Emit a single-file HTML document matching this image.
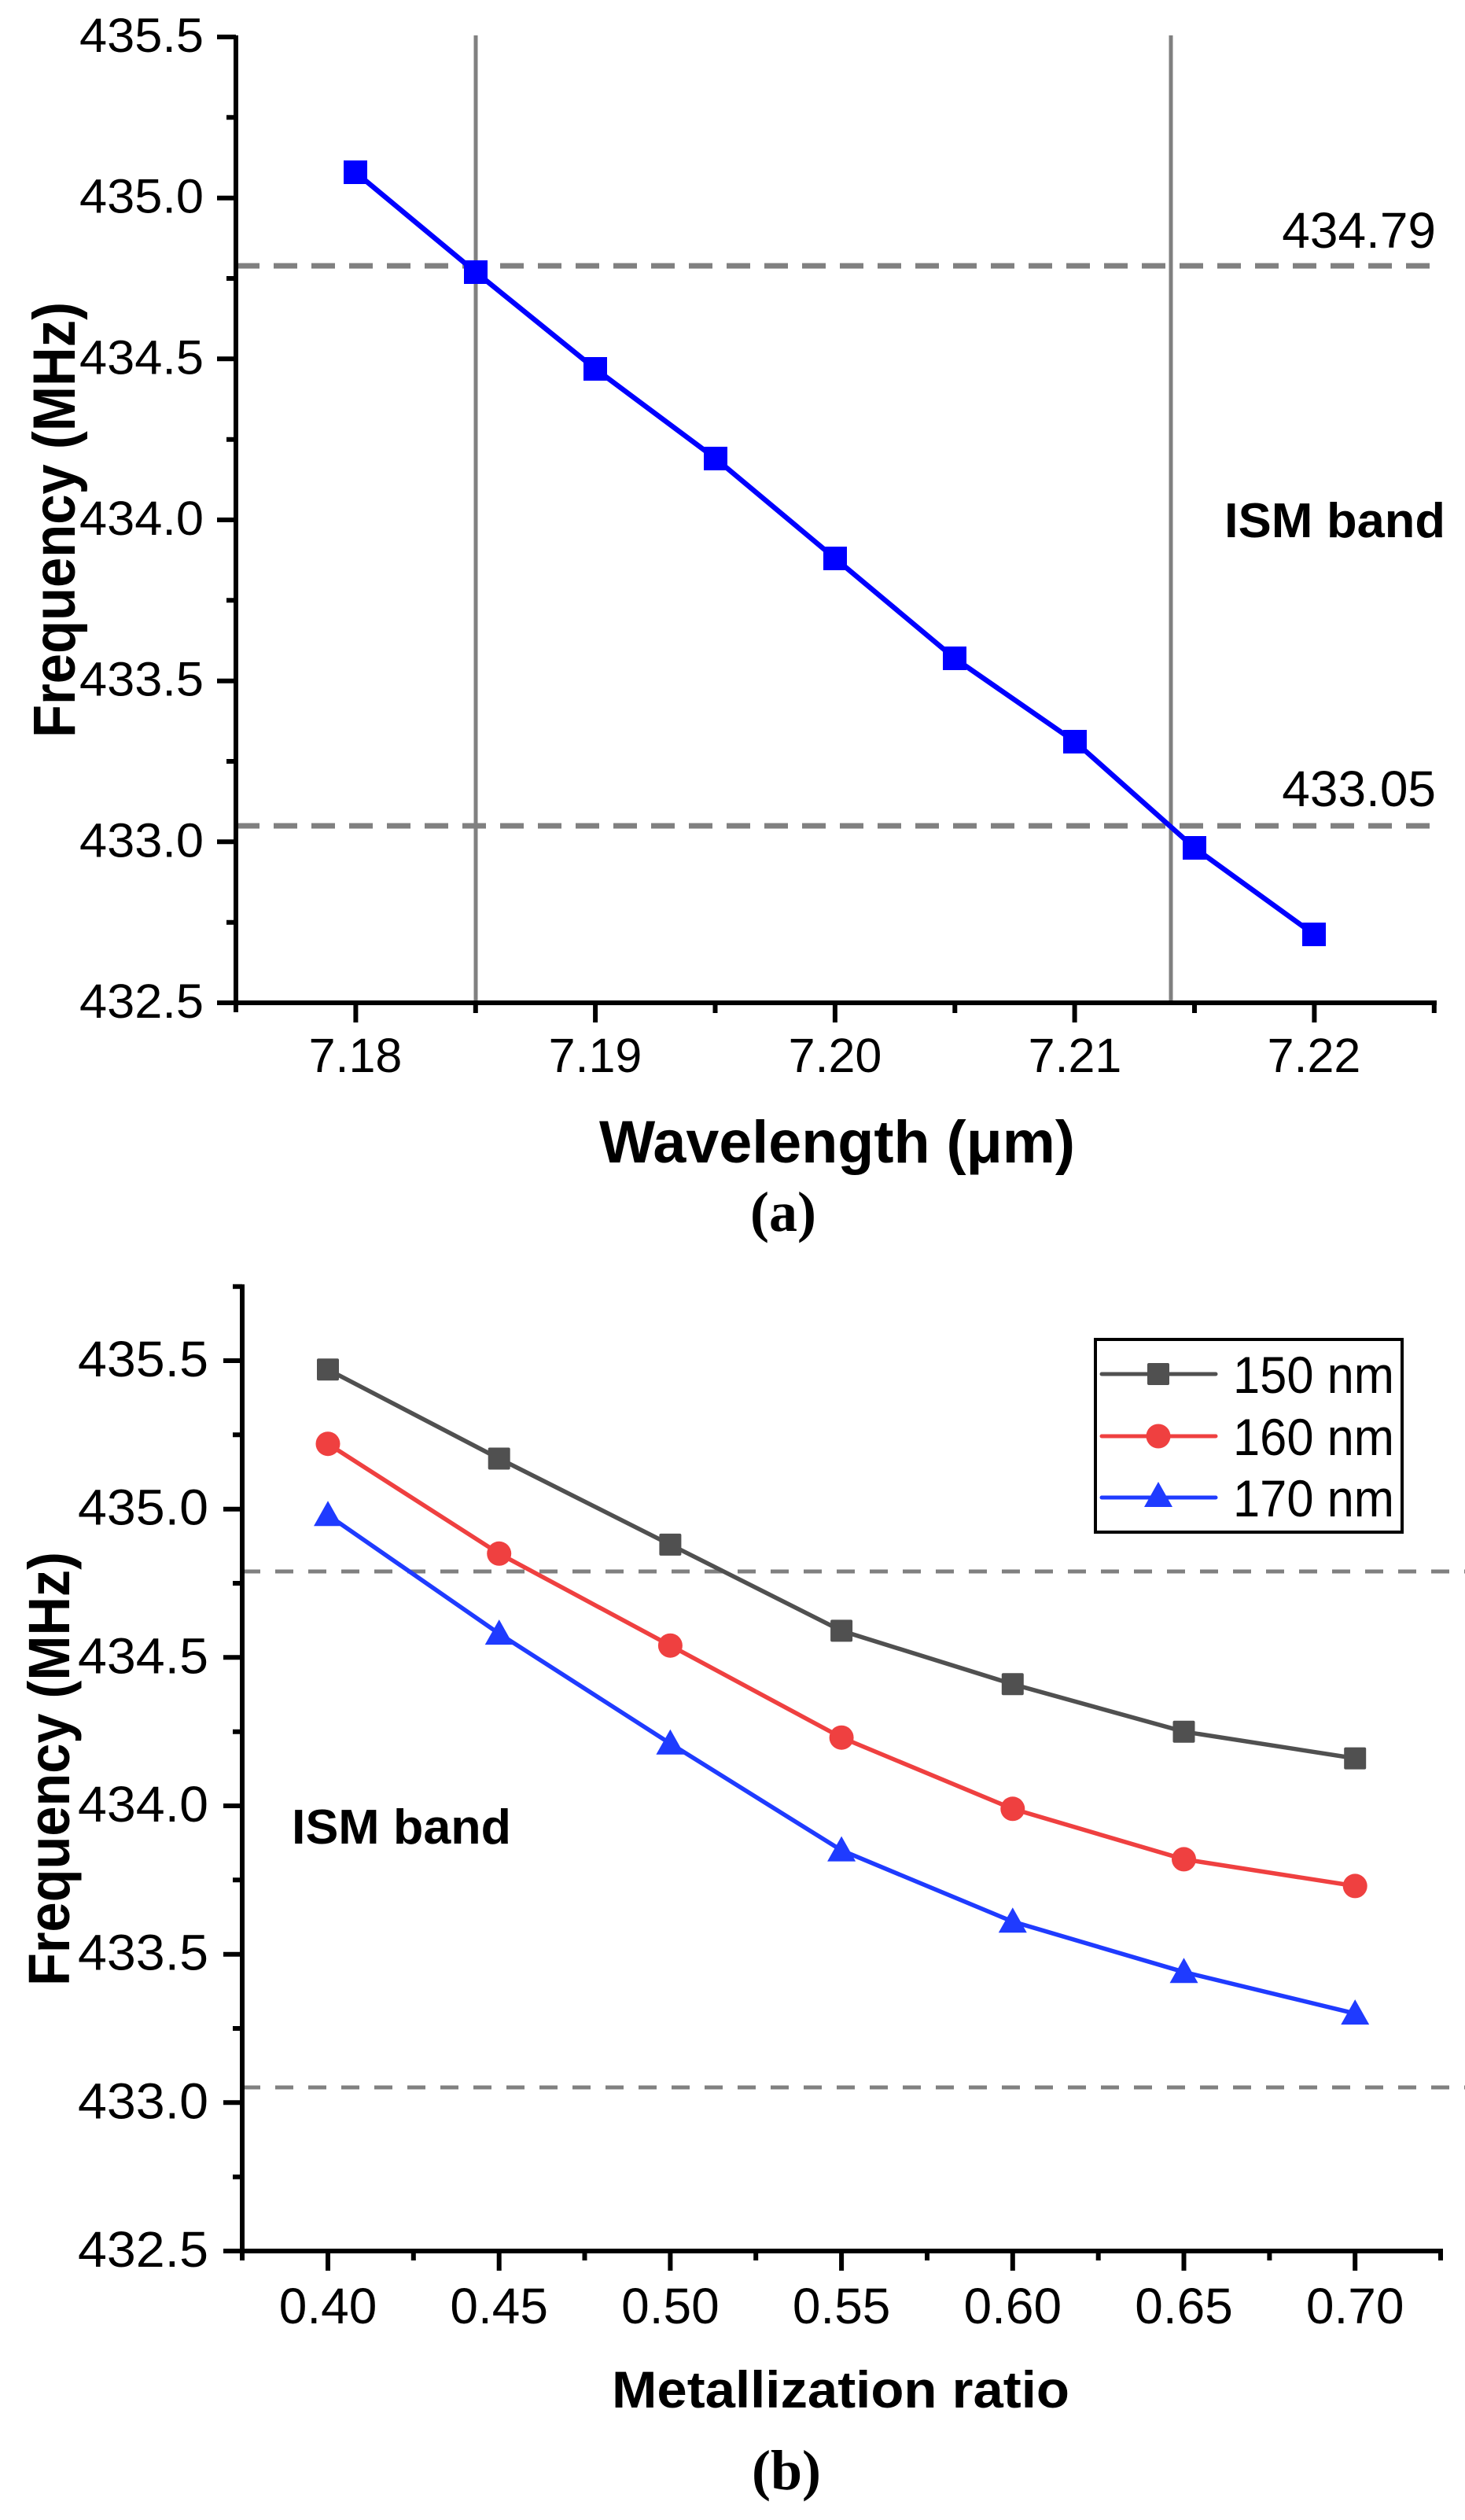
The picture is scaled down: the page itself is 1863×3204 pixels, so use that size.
<!DOCTYPE html>
<html><head><meta charset="utf-8"><style>html,body{margin:0;padding:0;background:#fff}svg{display:block}</style></head>
<body>
<svg width="1863" height="3204" viewBox="0 0 1863 3204" xmlns="http://www.w3.org/2000/svg" font-family="Liberation Sans, Arial, sans-serif">
<rect width="1863" height="3204" fill="#fff"/>
<!-- ========== (a) ========== -->
<g stroke="#808080" stroke-width="5">
<line x1="605" y1="45" x2="605" y2="1275"/>
<line x1="1489" y1="45" x2="1489" y2="1275"/>
<line x1="300" y1="338" x2="1825" y2="338" stroke-dasharray="30,18" stroke-width="7"/>
<line x1="300" y1="1050" x2="1825" y2="1050" stroke-dasharray="30,18" stroke-width="7"/>
</g>
<polyline fill="none" stroke="#0000ff" stroke-width="6.5" points="452,219 605,346 757,469 910,583 1062,710 1214,837 1367,943 1519,1078 1671,1188"/>
<g fill="#0000ff">
<rect x="437" y="204" width="30" height="30"/><rect x="590" y="331" width="30" height="30"/><rect x="742" y="454" width="30" height="30"/><rect x="895" y="568" width="30" height="30"/><rect x="1047" y="695" width="30" height="30"/><rect x="1199" y="822" width="30" height="30"/><rect x="1352" y="928" width="30" height="30"/><rect x="1504" y="1063" width="30" height="30"/><rect x="1656" y="1173" width="30" height="30"/>
</g>
<g stroke="#000" stroke-width="6" fill="none">
<line x1="300" y1="45" x2="300" y2="1287"/>
<line x1="276" y1="1275" x2="1827" y2="1275"/>
<path d="M276 47H300M276 251.7H300M276 456.3H300M276 661H300M276 865.7H300M276 1070.3H300M276 1275H300"/>
<path d="M288 149.3H300M288 354H300M288 558.7H300M288 763.3H300M288 968H300M288 1172.7H300"/>
<path d="M452.4 1275V1300M757.1 1275V1300M1061.9 1275V1300M1366.6 1275V1300M1671.4 1275V1300"/>
<path d="M604.8 1275V1288M909.5 1275V1288M1214.3 1275V1288M1519 1275V1288M1823.8 1275V1288"/>
</g>
<g font-size="61" fill="#000" text-anchor="end">
<text x="259" y="66" textLength="158" lengthAdjust="spacingAndGlyphs">435.5</text><text x="259" y="270.7" textLength="158" lengthAdjust="spacingAndGlyphs">435.0</text><text x="259" y="475.3" textLength="158" lengthAdjust="spacingAndGlyphs">434.5</text><text x="259" y="680" textLength="158" lengthAdjust="spacingAndGlyphs">434.0</text><text x="259" y="884.7" textLength="158" lengthAdjust="spacingAndGlyphs">433.5</text><text x="259" y="1089.3" textLength="158" lengthAdjust="spacingAndGlyphs">433.0</text><text x="259" y="1294" textLength="158" lengthAdjust="spacingAndGlyphs">432.5</text>
</g>
<g font-size="61" fill="#000" text-anchor="middle">
<text x="452" y="1363">7.18</text><text x="757" y="1363">7.19</text><text x="1062" y="1363">7.20</text><text x="1367" y="1363">7.21</text><text x="1671" y="1363">7.22</text>
</g>
<text x="1826" y="315" font-size="64" text-anchor="end">434.79</text>
<text x="1826" y="1025" font-size="64" text-anchor="end">433.05</text>
<text x="1557" y="683" font-size="62" font-weight="bold" textLength="281" lengthAdjust="spacingAndGlyphs">ISM band</text>
<text x="762" y="1478" font-size="76" font-weight="bold" textLength="605" lengthAdjust="spacingAndGlyphs">Wavelength (μm)</text>
<text transform="translate(95,661) rotate(-90)" text-anchor="middle" font-size="76" font-weight="bold" textLength="554" lengthAdjust="spacingAndGlyphs">Frequency (MHz)</text>
<text x="996" y="1565" font-family="Liberation Serif, serif" font-size="72" font-weight="bold" text-anchor="middle">(a)</text>

<!-- ========== (b) ========== -->
<g stroke="#808080" stroke-width="5">
<line x1="308" y1="1998" x2="1863" y2="1998" stroke-dasharray="23,19"/>
<line x1="308" y1="2654" x2="1863" y2="2654" stroke-dasharray="23,19"/>
</g>
<polyline fill="none" stroke="#505050" stroke-width="5.5" points="417,1741.3 634.7,1854.5 852.4,1963.9 1070.1,2073.4 1287.8,2141.3 1505.5,2201.7 1723.2,2235.6"/>
<polyline fill="none" stroke="#ef4040" stroke-width="5.5" points="417,1835.7 634.7,1975.3 852.4,2092.2 1070.1,2209.2 1287.8,2299.8 1505.5,2363.9 1723.2,2397.9"/>
<polyline fill="none" stroke="#1f3bff" stroke-width="5.5" points="417,1926.2 634.7,2077.1 852.4,2216.8 1070.1,2352.6 1287.8,2443.2 1505.5,2507.3 1723.2,2560.1"/>
<g fill="#505050">
<rect x="403" y="1727.3" width="28" height="28" rx="2"/><rect x="620.7" y="1840.5" width="28" height="28" rx="2"/><rect x="838.4" y="1949.9" width="28" height="28" rx="2"/><rect x="1056.1" y="2059.4" width="28" height="28" rx="2"/><rect x="1273.8" y="2127.3" width="28" height="28" rx="2"/><rect x="1491.5" y="2187.7" width="28" height="28" rx="2"/><rect x="1709.2" y="2221.6" width="28" height="28" rx="2"/>
</g>
<g fill="#ef4040">
<circle cx="417" cy="1835.7" r="15.5"/><circle cx="634.7" cy="1975.3" r="15.5"/><circle cx="852.4" cy="2092.2" r="15.5"/><circle cx="1070.1" cy="2209.2" r="15.5"/><circle cx="1287.8" cy="2299.8" r="15.5"/><circle cx="1505.5" cy="2363.9" r="15.5"/><circle cx="1723.2" cy="2397.9" r="15.5"/>
</g>
<g fill="#1f3bff">
<path d="M417 1908.2l18 32h-36z"/><path d="M634.7 2059.1l18 32h-36z"/><path d="M852.4 2198.8l18 32h-36z"/><path d="M1070.1 2334.6l18 32h-36z"/><path d="M1287.8 2425.2l18 32h-36z"/><path d="M1505.5 2489.3l18 32h-36z"/><path d="M1723.2 2542.1l18 32h-36z"/>
</g>
<g stroke="#000" stroke-width="6" fill="none">
<line x1="308" y1="1633" x2="308" y2="2874"/>
<line x1="284" y1="2862" x2="1835" y2="2862"/>
<path d="M284 1730H308M284 1918.7H308M284 2107.3H308M284 2296H308M284 2484.7H308M284 2673.3H308"/>
<path d="M296 1635.7H308M296 1824.3H308M296 2013H308M296 2201.7H308M296 2390.3H308M296 2579H308M296 2767.7H308"/>
<path d="M417 2862V2887M634.7 2862V2887M852.4 2862V2887M1070.1 2862V2887M1287.8 2862V2887M1505.5 2862V2887M1723.2 2862V2887"/>
<path d="M525.8 2862V2874M743.5 2862V2874M961.2 2862V2874M1179 2862V2874M1396.7 2862V2874M1614.4 2862V2874M1832 2862V2874"/>
</g>
<g font-size="64" fill="#000" text-anchor="end">
<text x="265" y="1750" textLength="166" lengthAdjust="spacingAndGlyphs">435.5</text><text x="265" y="1938.7" textLength="166" lengthAdjust="spacingAndGlyphs">435.0</text><text x="265" y="2127.3" textLength="166" lengthAdjust="spacingAndGlyphs">434.5</text><text x="265" y="2316" textLength="166" lengthAdjust="spacingAndGlyphs">434.0</text><text x="265" y="2504.7" textLength="166" lengthAdjust="spacingAndGlyphs">433.5</text><text x="265" y="2693.3" textLength="166" lengthAdjust="spacingAndGlyphs">433.0</text><text x="265" y="2882" textLength="166" lengthAdjust="spacingAndGlyphs">432.5</text>
</g>
<g font-size="64" fill="#000" text-anchor="middle">
<text x="417" y="2954">0.40</text><text x="634.7" y="2954">0.45</text><text x="852.4" y="2954">0.50</text><text x="1070.1" y="2954">0.55</text><text x="1287.8" y="2954">0.60</text><text x="1505.5" y="2954">0.65</text><text x="1723.2" y="2954">0.70</text>
</g>
<rect x="1393" y="1703" width="390" height="245" fill="#fff" stroke="#000" stroke-width="4"/>
<line x1="1401" y1="1747" x2="1546" y2="1747" stroke="#505050" stroke-width="5" stroke-linecap="round"/>
<rect x="1459" y="1733" width="28" height="28" rx="2" fill="#505050"/>
<line x1="1401" y1="1826" x2="1546" y2="1826" stroke="#ef4040" stroke-width="5" stroke-linecap="round"/>
<circle cx="1473" cy="1826" r="15.5" fill="#ef4040"/>
<line x1="1401" y1="1904" x2="1546" y2="1904" stroke="#1f3bff" stroke-width="5" stroke-linecap="round"/>
<path d="M1473 1884l18 32h-36z" fill="#1f3bff"/>
<g font-size="66" fill="#000">
<text x="1568" y="1771" textLength="205" lengthAdjust="spacingAndGlyphs">150 nm</text><text x="1568" y="1850" textLength="205" lengthAdjust="spacingAndGlyphs">160 nm</text><text x="1568" y="1928" textLength="205" lengthAdjust="spacingAndGlyphs">170 nm</text>
</g>
<text x="371" y="2344" font-size="62" font-weight="bold" textLength="279" lengthAdjust="spacingAndGlyphs">ISM band</text>
<text x="778" y="3061" font-size="66" font-weight="bold" textLength="582" lengthAdjust="spacingAndGlyphs">Metallization ratio</text>
<text transform="translate(88,2249) rotate(-90)" text-anchor="middle" font-size="74" font-weight="bold" textLength="552" lengthAdjust="spacingAndGlyphs">Frequency (MHz)</text>
<text x="1000" y="3165" font-family="Liberation Serif, serif" font-size="72" font-weight="bold" text-anchor="middle">(b)</text>
</svg>
</body></html>
